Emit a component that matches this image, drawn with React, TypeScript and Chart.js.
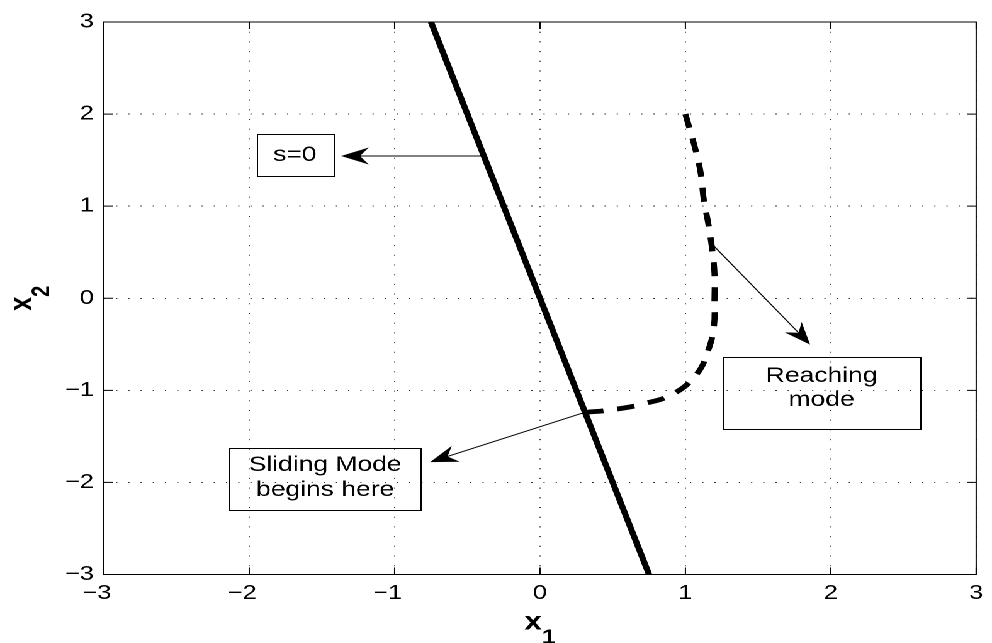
import React, { useEffect, useRef } from 'react';
import { Chart, registerables } from 'chart.js';

Chart.register(...registerables);

const FONT = "'Liberation Sans', Arial, Helvetica, sans-serif";
const LOGICAL_W = 788;
const PAGE_W = 992;
const PAGE_H = 643;

// ---- data ----
const tickValues = [-3, -2, -1, 0, 1, 2, 3];

// sliding surface s = 0
const slidingX1 = [-0.75, 0.75];
const slidingX2 = [3, -3];

// reaching-phase trajectory (dashed)
const reachingX1 = [1.0, 1.07, 1.105, 1.127, 1.157, 1.185, 1.2, 1.2, 1.196, 1.157, 1.08, 0.92, 0.716, 0.5, 0.31];
const reachingX2 = [2.0, 1.61, 1.36, 1.065, 0.815, 0.52, 0.27, -0.02, -0.31, -0.565, -0.82, -1.036, -1.145, -1.21, -1.24];

// annotations (data coordinates)
const noteLines = [["s=0"], ["Sliding Mode", "begins here"], ["Reaching", "mode"]];
const noteBoxLeft = [-1.949, -2.137, 1.258];
const noteBoxRight = [-1.422, -0.82, 2.616];
const noteBoxTop = [1.783, -1.627, -0.638];
const noteBoxBottom = [1.326, -2.304, -1.416];
const noteTextX = [-1.686, -1.478, 1.937];
const noteTextY = [[1.554], [-1.815, -2.087], [-0.845, -1.109]];
const arrowFromX = [-0.4, 0.33, 1.19];
const arrowFromY = [1.545, -1.228, 0.576];
const arrowToX = [-1.368, -0.756, 1.858];
const arrowToY = [1.545, -1.779, -0.503];

const fmt = (v: number) => (v < 0 ? '\u2212' + Math.abs(v) : String(v));

const framePlugin = {
  id: 'frame',
  afterDatasetsDraw(chart: any) {
    const { ctx, chartArea, scales } = chart;
    const { left, right, top, bottom } = chartArea;
    ctx.save();
    ctx.setLineDash([]);
    ctx.strokeStyle = '#000';
    ctx.lineWidth = 1;
    ctx.strokeRect(left, top, right - left, bottom - top);
    ctx.beginPath();
    for (const v of tickValues) {
      const px = scales.x.getPixelForValue(v);
      ctx.moveTo(px, bottom); ctx.lineTo(px, bottom - 7);
      ctx.moveTo(px, top); ctx.lineTo(px, top + 7);
      const py = scales.y.getPixelForValue(v);
      ctx.moveTo(left, py); ctx.lineTo(left + 7, py);
      ctx.moveTo(right, py); ctx.lineTo(right - 7, py);
    }
    ctx.stroke();
    ctx.restore();
  },
};

function drawArrow(ctx: CanvasRenderingContext2D, x0: number, y0: number, x1: number, y1: number) {
  const ang = Math.atan2(y1 - y0, x1 - x0);
  const L = 22, hw = 8.5, notch = 0.68 * L;
  ctx.beginPath();
  ctx.moveTo(x0, y0);
  ctx.lineTo(x1 - Math.cos(ang) * notch, y1 - Math.sin(ang) * notch);
  ctx.stroke();
  const c = Math.cos(ang), s = Math.sin(ang);
  const bx = x1 - c * L, by = y1 - s * L;
  ctx.beginPath();
  ctx.moveTo(x1, y1);
  ctx.lineTo(bx - s * hw, by + c * hw);
  ctx.lineTo(x1 - c * notch, y1 - s * notch);
  ctx.lineTo(bx + s * hw, by - c * hw);
  ctx.closePath();
  ctx.fill();
}

const notesPlugin = {
  id: 'notes',
  afterDraw(chart: any) {
    const { ctx, scales, chartArea } = chart;
    const X = (v: number) => scales.x.getPixelForValue(v);
    const Y = (v: number) => scales.y.getPixelForValue(v);
    ctx.save();
    ctx.setLineDash([]);
    ctx.strokeStyle = '#000';
    ctx.fillStyle = '#000';
    ctx.lineWidth = 1;
    for (let i = 0; i < noteLines.length; i++) {
      const l = X(noteBoxLeft[i]), r = X(noteBoxRight[i]);
      const t = Y(noteBoxTop[i]), b = Y(noteBoxBottom[i]);
      ctx.strokeRect(Math.round(l) + 0.5, Math.round(t) + 0.5, Math.round(r - l), Math.round(b - t));
      ctx.font = `21px ${FONT}`;
      ctx.textAlign = 'center';
      ctx.textBaseline = 'middle';
      noteLines[i].forEach((txt, k) => ctx.fillText(txt, X(noteTextX[i]), Y(noteTextY[i][k])));
      drawArrow(ctx, X(arrowFromX[i]), Y(arrowFromY[i]), X(arrowToX[i]), Y(arrowToY[i]));
    }
    // axis titles
    const drawTitle = (main: string, sub: string) => {
      ctx.font = `bold 25px ${FONT}`;
      const wm = ctx.measureText(main).width;
      ctx.font = `bold 20px ${FONT}`;
      const ws = ctx.measureText(sub).width;
      const start = -(wm + ws) / 2;
      ctx.textAlign = 'left';
      ctx.textBaseline = 'alphabetic';
      ctx.font = `bold 25px ${FONT}`;
      ctx.fillText(main, start, 0);
      ctx.font = `bold 20px ${FONT}`;
      ctx.fillText(sub, start + wm, 14);
    };
    ctx.save();
    ctx.translate((chartArea.left + chartArea.right) / 2, chartArea.bottom + 55);
    drawTitle('x', '1');
    ctx.restore();
    ctx.save();
    ctx.translate(chartArea.left - 57.5, (chartArea.top + chartArea.bottom) / 2);
    ctx.rotate(-Math.PI / 2);
    drawTitle('x', '2');
    ctx.restore();
    ctx.restore();
  },
};

export default function App() {
  const ref = useRef<HTMLCanvasElement | null>(null);
  useEffect(() => {
    if (!ref.current) return;
    const gridColor = 'rgba(0,0,0,0.8)';
    const chart = new Chart(ref.current, {
      type: 'line',
      data: {
        datasets: [
          {
            data: slidingX1.map((v, i) => ({ x: v, y: slidingX2[i] })),
            borderColor: '#000',
            borderWidth: 5,
            pointRadius: 0,
            tension: 0,
          },
          {
            data: reachingX1.map((v, i) => ({ x: v, y: reachingX2[i] })),
            borderColor: '#000',
            borderWidth: 4.8,
            borderDash: [14, 11],
            pointRadius: 0,
            tension: 0.4,
          },
        ],
      },
      options: {
        responsive: false,
        animation: false,
        devicePixelRatio: 2,
        events: [],
        layout: { padding: { left: 38.5, right: 9, top: 22, bottom: 28.5 } },
        plugins: { legend: { display: false }, tooltip: { enabled: false }, title: { display: false } },
        scales: {
          x: {
            type: 'linear',
            min: -3,
            max: 3,
            afterFit: (s: any) => { s.height = 40; },
            afterBuildTicks: (s: any) => { s.ticks = tickValues.map((v) => ({ value: v })); },
            ticks: {
              color: '#000',
              padding: 7,
              maxRotation: 0,
              font: { family: FONT, size: 20 },
              callback: (v: any) => fmt(Number(v)) + (Number(v) < 0 ? '\u2007' : ''),
            },
            grid: { color: gridColor, lineWidth: 1, drawTicks: false },
            border: { display: false, dash: [1, 8.7] },
          },
          y: {
            type: 'linear',
            min: -3,
            max: 3,
            afterFit: (s: any) => { s.width = 44; },
            afterBuildTicks: (s: any) => { s.ticks = tickValues.map((v) => ({ value: v })); },
            ticks: {
              color: '#000',
              padding: 8,
              font: { family: FONT, size: 20 },
              callback: (v: any) => fmt(Number(v)),
            },
            grid: { color: gridColor, lineWidth: 1, drawTicks: false },
            border: { display: false, dash: [1, 8.7] },
          },
        },
      },
      plugins: [framePlugin, notesPlugin],
    } as any);
    return () => chart.destroy();
  }, []);

  return (
    <div
      style={{
        position: 'fixed',
        left: 0,
        top: 0,
        width: LOGICAL_W,
        height: PAGE_H,
        background: '#fff',
        transform: `scaleX(${PAGE_W / LOGICAL_W})`,
        transformOrigin: '0 0',
      }}
    >
      <canvas ref={ref} width={LOGICAL_W} height={PAGE_H} style={{ display: 'block', width: LOGICAL_W, height: PAGE_H }} />
    </div>
  );
}
